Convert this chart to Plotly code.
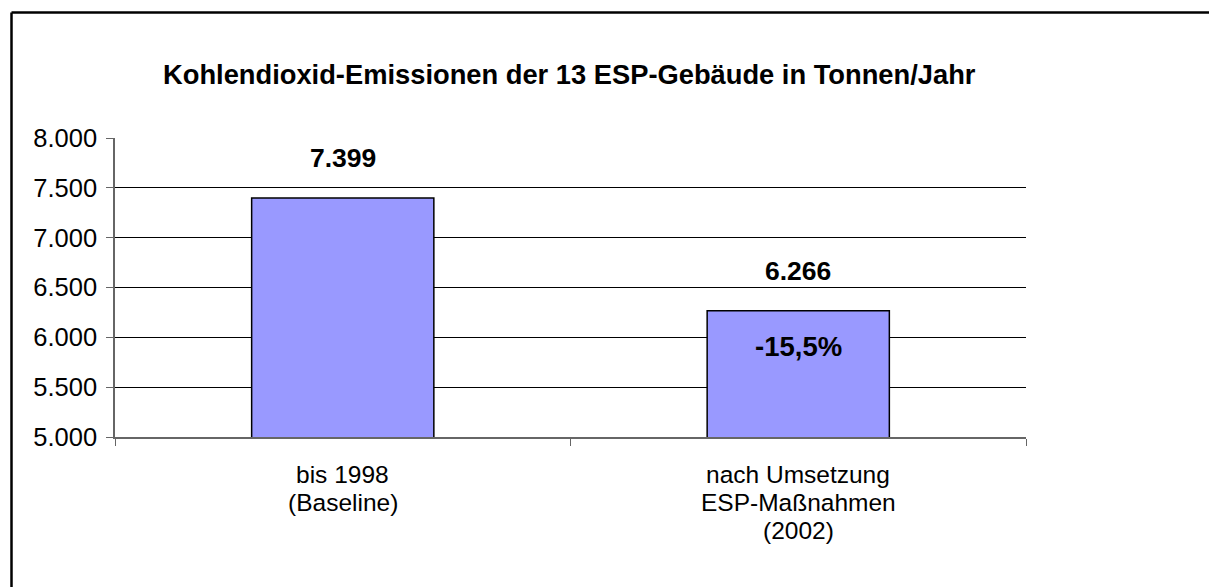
import plotly.graph_objects as go

categories = ["bis 1998<br>(Baseline)", "nach Umsetzung<br>ESP-Maßnahmen<br>(2002)"]
values = [7399, 6266]
value_labels = ["7.399", "6.266"]
change_label = "-15,5%"
title = "Kohlendioxid-Emissionen der 13 ESP-Gebäude in Tonnen/Jahr"
y_ticks = [5000, 5500, 6000, 6500, 7000, 7500, 8000]

FONT = "Arial, Liberation Sans, sans-serif"

W, H = 1209, 587
# plot area in page pixel coordinates
L, R, T, B = 115, 1026, 138, 437
pw, ph = R - L, B - T

def px(x):
    return (x - L) / pw

def py(y):
    return (B - y) / ph

fig = go.Figure()
fig.add_trace(go.Bar(
    x=categories, y=values,
    marker=dict(color="#9999FF", line=dict(color="black", width=1.5)),
    width=0.4, hoverinfo="skip",
))

annotations = []
for c, v, lab in zip(categories, values, value_labels):
    annotations.append(dict(x=c, y=v, xref="x", yref="y", text=f"<b>{lab}</b>",
                            showarrow=False, yshift=40, font=dict(size=26.5, family=FONT, color="black")))
annotations.append(dict(x=categories[1], y=values[1], xref="x", yref="y", text=f"<b>{change_label}</b>",
                        showarrow=False, yshift=-36, font=dict(size=27.5, family=FONT, color="black")))
annotations.append(dict(x=px(569), y=py(75), xref="paper", yref="paper", text=f"<b>{title}</b>",
                        xanchor="center", yanchor="middle",
                        showarrow=False, font=dict(size=27.3, family=FONT, color="black")))
# category labels, one annotation per text line for exact line spacing
for c in categories:
    for i, line in enumerate(c.split("<br>")):
        annotations.append(dict(x=c, y=py(474 + 28 * i), xref="x", yref="paper", text=line,
                                xanchor="center", yanchor="middle", showarrow=False,
                                font=dict(size=24.5, family=FONT, color="black")))

frame = dict(color="black", width=2.5)
fig.update_layout(
    width=W, height=H,
    margin=dict(l=L, r=W - R, t=T, b=H - B, pad=0),
    paper_bgcolor="white", plot_bgcolor="white",
    separators=",.",
    showlegend=False,
    font=dict(family=FONT, size=24, color="black"),
    annotations=annotations,
    shapes=[
        dict(type="line", xref="paper", yref="paper", x0=px(11.5), x1=px(1300),
             y0=py(12.5), y1=py(12.5), line=frame, layer="above"),
        dict(type="line", xref="paper", yref="paper", x0=px(11.5), x1=px(11.5),
             y0=py(12.5), y1=py(700), line=frame, layer="above"),
    ],
    xaxis=dict(
        type="category", tickson="boundaries", ticks="outside", ticklen=7, tickcolor="#666",
        showline=True, linecolor="#666", linewidth=1.5, showgrid=False,
        showticklabels=False,
        range=[-0.5, 1.5],
    ),
    yaxis=dict(
        range=[5000, 8000], tickvals=y_ticks, tickformat=",d",
        ticks="outside", ticklen=7, tickcolor="#666",
        showline=True, linecolor="#666", linewidth=1.5,
        showgrid=True, gridcolor="black", gridwidth=1,
        tickfont=dict(size=25.5, family=FONT, color="black"),
        ticklabelstandoff=4,
        zeroline=False,
    ),
)

fig.write_html(
    "out.html",
    config={"displayModeBar": False},
    post_script="document.body.style.margin='0';document.body.style.overflow='hidden';",
)
